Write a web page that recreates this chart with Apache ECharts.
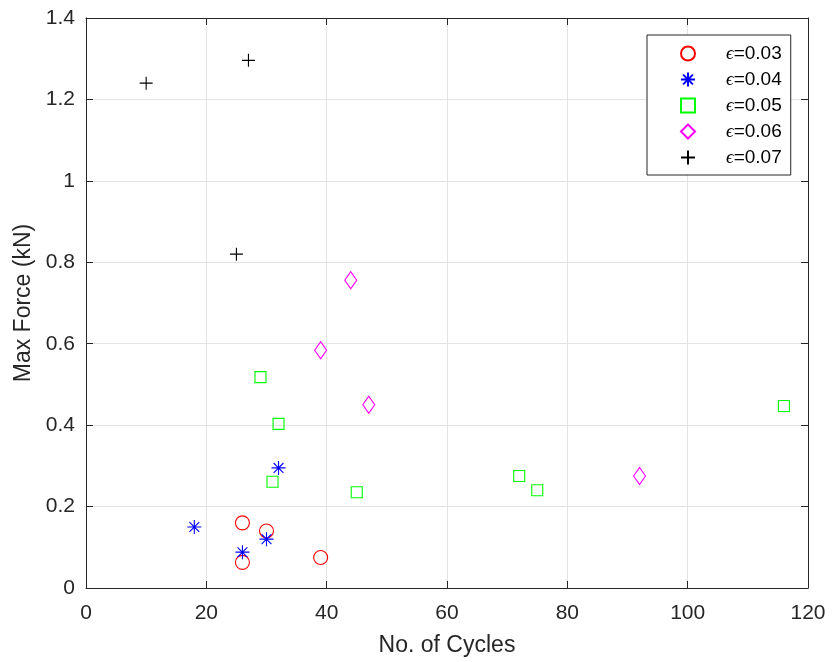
<!DOCTYPE html>
<html>
<head>
<meta charset="utf-8">
<script src="https://cdn.jsdelivr.net/npm/echarts@6/dist/echarts.min.js"></script>
<style>
  html, body { margin: 0; padding: 0; background: #fff; }
  #chart { width: 833px; height: 662px; }
</style>
</head>
<body>
<div id="chart"></div>
<script>
// Strain amplitude groups
const strainLabels = ['0.03', '0.04', '0.05', '0.06', '0.07'];

// Number of cycles and maximum force (kN) for each strain group
const cycles003 = [26, 30, 26, 39];
const force003  = [0.16, 0.14, 0.063, 0.075];

const cycles004 = [18, 30, 26, 32];
const force004  = [0.15, 0.12, 0.088, 0.295];

const cycles005 = [29, 32, 31, 45, 72, 75, 116];
const force005  = [0.518, 0.403, 0.261, 0.235, 0.275, 0.24, 0.447];

const cycles006 = [44, 39, 47, 92];
const force006  = [0.756, 0.584, 0.45, 0.275];

const cycles007 = [10, 27, 25];
const force007  = [1.24, 1.296, 0.82];

const xTicks = [0, 20, 40, 60, 80, 100, 120];
const yTicks = [0, 0.2, 0.4, 0.6, 0.8, 1, 1.2, 1.4];

const pairs = (xs, ys) => xs.map((x, i) => [x, ys[i]]);

const AXIS = '#262626';
const FONT = 'Liberation Sans, Arial, sans-serif';

const ASTERISK = 'path://M0,-1L0,1M-1,0L1,0M-0.7,-0.7L0.7,0.7M-0.7,0.7L0.7,-0.7';
const PLUS = 'path://M0,-1L0,1M-1,0L1,0';

function markerSeries(idx, data, symbol, size, color) {
  return {
    name: strainLabels[idx],
    type: 'scatter',
    data: data,
    symbol: symbol,
    symbolSize: size,
    itemStyle: { color: 'rgba(0,0,0,0)', borderColor: color, borderWidth: 1.1, opacity: 1 },
    emphasis: { disabled: true }
  };
}

// Plain frame axis (top / right) carrying only inward ticks
function frameAxis(isX, position) {
  return {
    type: 'value', min: 0, max: isX ? 120 : 1.4, interval: isX ? 20 : 0.2, position: position,
    axisLine: { show: true, onZero: false, lineStyle: { color: AXIS, width: 1 } },
    axisTick: { show: true, inside: true, length: 7, lineStyle: { color: AXIS } },
    axisLabel: { show: false }, splitLine: { show: false }
  };
}

const chart = echarts.init(document.getElementById('chart'), null, { renderer: 'canvas' });

chart.setOption({
  animation: false,
  backgroundColor: '#fff',
  grid: { left: 86, right: 25, top: 18, bottom: 74, show: false, outerBoundsMode: 'none', containLabel: false },
  legend: {
    orient: 'vertical',
    left: 647,
    top: 35,
    padding: [9, 9, 8, 33],
    itemWidth: 14,
    itemHeight: 14,
    itemGap: 7,
    backgroundColor: '#fff',
    borderColor: AXIS,
    borderWidth: 1,
    borderRadius: 0,
    data: strainLabels,
    formatter: name => '{e|ϵ}{v|=' + name + '}',
    textStyle: {
      rich: {
        e: { fontFamily: 'Liberation Serif, serif', fontStyle: 'italic', fontSize: 19, color: '#000', padding: [0, 0, 0, 26], lineHeight: 14 },
        v: { fontFamily: FONT, fontSize: 19, color: '#000', lineHeight: 14 }
      }
    }
  },
  xAxis: [
    {
      type: 'value', min: 0, max: 120, interval: 20, position: 'bottom',
      name: 'No. of Cycles', nameLocation: 'middle', nameGap: 46,
      nameTextStyle: { fontFamily: FONT, fontSize: 23, color: AXIS },
      axisLine: { show: true, onZero: false, lineStyle: { color: AXIS, width: 1 } },
      axisTick: { show: true, inside: true, length: 7, lineStyle: { color: AXIS } },
      axisLabel: { fontFamily: FONT, fontSize: 21, color: AXIS, margin: 15,
        formatter: v => xTicks.includes(v) ? String(v) : '' },
      splitLine: { show: true, lineStyle: { color: '#e3e3e3', width: 1 } }
    },
    frameAxis(true, 'top')
  ],
  yAxis: [
    {
      type: 'value', min: 0, max: 1.4, interval: 0.2, position: 'left',
      name: 'Max Force (kN)', nameLocation: 'middle', nameGap: 47, nameRotate: 90,
      nameTextStyle: { fontFamily: FONT, fontSize: 23, color: AXIS },
      axisLine: { show: true, onZero: false, lineStyle: { color: AXIS, width: 1 } },
      axisTick: { show: true, inside: true, length: 7, lineStyle: { color: AXIS } },
      axisLabel: { fontFamily: FONT, fontSize: 21, color: AXIS, margin: 11,
        formatter: v => { const t = yTicks.find(k => Math.abs(k - v) < 1e-9); return t === undefined ? '' : String(t); } },
      splitLine: { show: true, lineStyle: { color: '#e3e3e3', width: 1 } }
    },
    frameAxis(false, 'right')
  ],
  series: [
    markerSeries(0, pairs(cycles003, force003), 'circle', 14, '#ff0000'),
    markerSeries(1, pairs(cycles004, force004), ASTERISK, 14, '#0000ff'),
    markerSeries(2, pairs(cycles005, force005), 'rect', 11, '#00ff00'),
    markerSeries(3, pairs(cycles006, force006), 'diamond', [12, 17], '#ff00ff'),
    markerSeries(4, pairs(cycles007, force007), PLUS, 13, '#000000')
  ]
});
</script>
</body>
</html>
